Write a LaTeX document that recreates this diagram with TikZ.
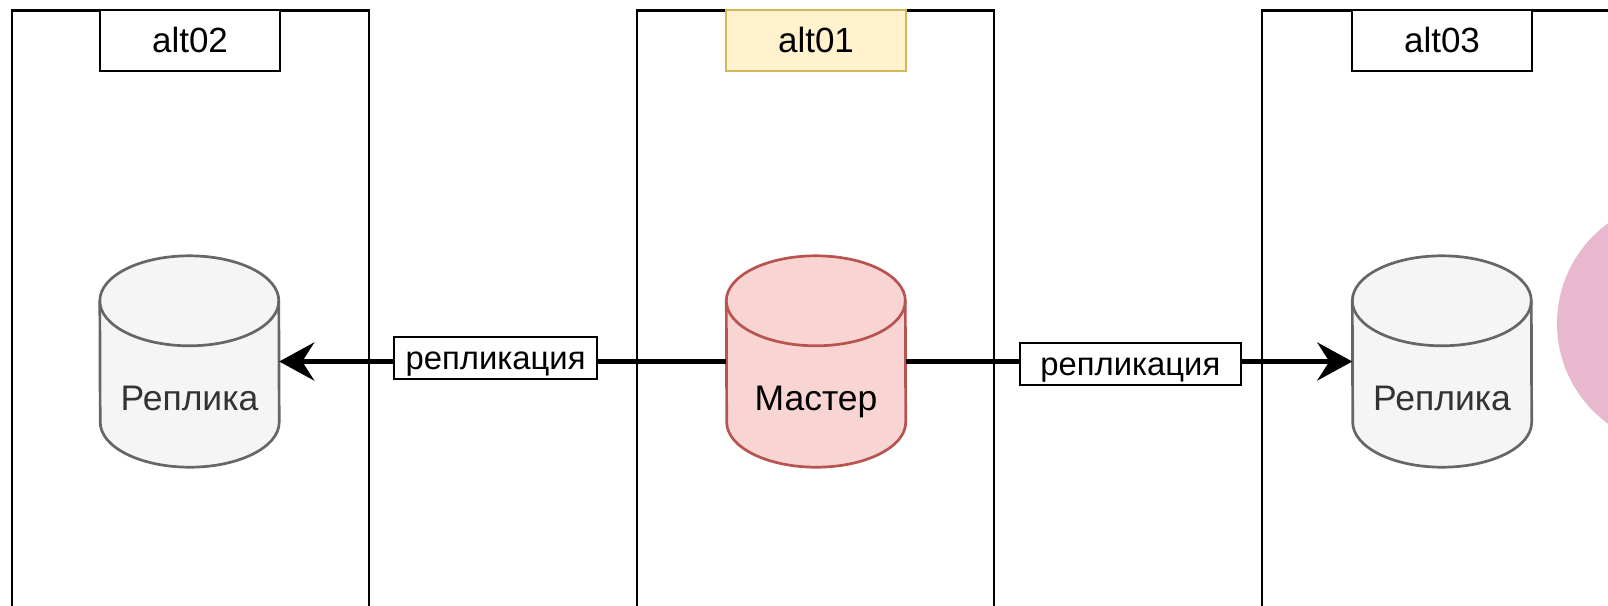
\documentclass[tikz,border=0pt]{standalone}
\usepackage{fontspec}
\setmainfont{Liberation Sans}
\usetikzlibrary{arrows.meta,calc,backgrounds}

\definecolor{repfill}{HTML}{F5F5F5}
\definecolor{repline}{HTML}{666666}
\definecolor{reptext}{HTML}{333333}
\definecolor{mastfill}{HTML}{F8D5D2}
\definecolor{mastline}{HTML}{B85450}
\definecolor{tagfill}{HTML}{FFF2CC}
\definecolor{tagline}{HTML}{D6B656}
\definecolor{blush}{HTML}{E7B8CE}

% cylinder outline drawn around a named node: #1 node, #2 fill, #3 stroke
\newcommand{\dbshape}[3]{%
  \filldraw[fill=#2, draw=#3, line width=2.7pt]
    ($(#1.north west)+(0,45)$)
      arc[start angle=180, end angle=0, x radius=89.5pt, y radius=45pt]
    -- ($(#1.south east)+(0,-45)$)
      arc[start angle=0, end angle=-180, x radius=89.5pt, y radius=45pt]
    -- cycle;
  \draw[draw=#3, line width=2.7pt]
    ($(#1.north west)+(0,45)$)
      arc[start angle=180, end angle=360, x radius=89.5pt, y radius=45pt];
}

\begin{document}
\begin{tikzpicture}[x=1pt, y=-1pt,
  frame/.style={draw=black, line width=2.8pt, minimum width=357pt,
    minimum height=690pt, inner sep=0pt},
  tagbox/.style={draw=black, line width=2.8pt, fill=white, minimum width=180pt,
    minimum height=61pt, inner sep=0pt, text height=23pt, text depth=0pt,
    font=\fontsize{35pt}{42pt}\selectfont},
  dbnode/.style={minimum width=179pt, minimum height=211pt, inner sep=0pt,
    text height=97pt, text depth=0pt, font=\fontsize{35.5pt}{42pt}\selectfont},
  edgetag/.style={draw=black, line width=2.7pt, fill=white, inner sep=0pt,
    minimum height=42pt, text height=22pt, text depth=0pt,
    font=\fontsize{32.8pt}{39pt}\selectfont},
  conn/.style={draw=black, line width=5pt,
    -{Stealth[length=35pt, width=38pt, inset=12pt]}}
]
\useasboundingbox (0,0) rectangle (1608,605);
\clip (0,0) rectangle (1608,605);

% hosts
\node[frame] (zone2) at (190.5, 355.5) {};
\node[frame] (zone1) at (815.5, 355.5) {};
\node[frame] (zone3) at (1440.5, 355.5) {};

% host names
\node[tagbox] (tag2) at (190, 40.5) {alt02};
\node[tagbox, fill=tagfill, draw=tagline] (tag1) at (816, 40.5) {alt01};
\node[tagbox] (tag3) at (1442, 40.5) {alt03};

% decorative disc at the right edge
\fill[blush] (1681, 323.5) circle[radius=124pt];

% databases
\node[dbnode, text=reptext] (rep2) at (189.5, 361.5) {Реплика};
\node[dbnode, text=black] (master) at (816, 361.5) {Мастер};
\node[dbnode, text=reptext] (rep3) at (1442, 361.5) {Реплика};

\begin{pgfonlayer}{background}
  \fill[white] (0,0) rectangle (1608,605);
  \dbshape{rep2}{repfill}{repline}
  \dbshape{master}{mastfill}{mastline}
  \dbshape{rep3}{repfill}{repline}
\end{pgfonlayer}

% replication links
\draw[conn] (master.west) --
  node[edgetag, pos=0.516, yshift=3.5pt, minimum width=203pt] (lblL) {репликация}
  (rep2.east);
\draw[conn] (master.east) --
  node[edgetag, pos=0.503, yshift=-2.5pt, minimum width=221pt] (lblR) {репликация}
  (rep3.west);
\end{tikzpicture}
\end{document}
